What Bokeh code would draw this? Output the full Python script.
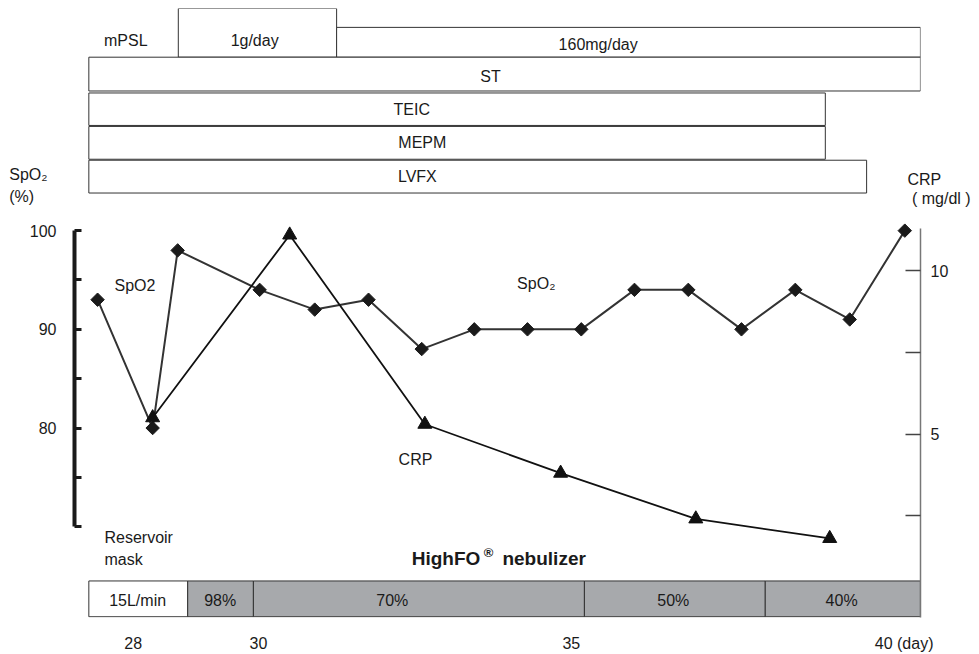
from bokeh.plotting import figure
from bokeh.models import Range1d, LinearAxis, FixedTicker, Label
from bokeh.embed import file_html
from bokeh.resources import INLINE
from bokeh.core.properties import value
import math

FONT = "Liberation Sans"
INK = "#1a1a1a"
GRAY = "#a7a9ac"
NBSP = "\u00a0"

# ---------------- data ----------------
spo2_day = [27.43, 28.31, 28.71, 30.02, 30.90, 31.76, 32.61, 33.45,
            34.30, 35.16, 36.01, 36.87, 37.72, 38.58, 39.45, 40.33]
spo2_val = [93, 80, 98, 94, 92, 93, 88, 90, 90, 90, 94, 94, 90, 94, 91, 100]

crp_day = [28.31, 30.50, 32.66, 34.83, 36.99, 39.13]
crp_val = [5.5, 11.1, 5.3, 3.8, 2.4, 1.8]

drug_names = ["ST", "TEIC", "MEPM", "LVFX"]
drug_start = [27.29, 27.29, 27.29, 27.29]
drug_end = [40.58, 39.06, 39.06, 39.72]

mpsl_doses = ["1g/day", "160mg/day"]
mpsl_start = [28.72, 31.25]
mpsl_end = [31.25, 40.58]

o2_labels = ["15L/min", "98%", "70%", "50%", "40%"]
o2_start = [27.29, 28.87, 29.92, 35.21, 38.10]
o2_end = [28.87, 29.92, 35.21, 38.10, 40.58]

day_ticks = [28, 30, 35, 40]
day_unit = "(day)"
spo2_ticks = [70, 75, 80, 85, 90, 95, 100]
spo2_labeled = [80, 90, 100]
spo2_title = ["SpO\u2082", "(%)"]
crp_ticks = [2.5, 5, 7.5, 10]
crp_labeled = [5, 10]
crp_title = ["CRP", "( mg/dl )"]

# ---------------- layout (rows for the bars, top = 0) ----------------
drug_top = [1.47, 2.55, 3.56, 4.58]
drug_bot = [2.49, 3.53, 4.55, 5.57]
drug_text_x = [33.71, 32.45, 32.62, 32.54]
drug_text_y = [2.04, 3.05, 4.05, 5.07]

mpsl_top = [0.0, 0.57]
mpsl_bot = [1.47, 1.47]
mpsl_text_x = [29.94, 35.43]
mpsl_text_y = [0.97, 1.08]

o2_top = 17.28
o2_bot = 18.36
o2_text_x = [28.07, 29.39, 32.14, 36.63, 39.32]
o2_text_y = 17.88

spo2_title_rows = [5.00, 5.66]
crp_title_rows = [5.15, 5.75]

p = figure(width=979, height=654,
           x_range=Range1d(27.061, 40.581), y_range=Range1d(60.80, 122.51),
           output_backend="svg", toolbar_location=None,
           min_border_left=74, min_border_right=59, min_border_top=8,
           min_border_bottom=32)
p.extra_y_ranges = {"crp": Range1d(-0.623, 18.04), "lane": Range1d(18.383, 0)}
p.xgrid.visible = False
p.ygrid.visible = False
p.outline_line_color = None


def style_labels(ax):
    ax.major_label_text_font = FONT
    ax.major_label_text_font_size = "16px"
    ax.major_label_text_color = INK


# left SpO2 axis (bracket)
yax = p.yaxis[0]
yax.ticker = FixedTicker(ticks=spo2_ticks)
yax.major_label_overrides = {t: (str(t) if t in spo2_labeled else "") for t in spo2_ticks}
yax.bounds = (70, 100)
yax.axis_line_width = 4
yax.axis_line_color = INK
yax.major_tick_in = 7
yax.major_tick_out = 0
yax.major_tick_line_width = 3
yax.major_tick_line_color = INK
yax.minor_tick_line_color = None
yax.major_label_standoff = 18
style_labels(yax)

# axis title for SpO2, set above the bracket (outer left axis)
tax = LinearAxis(y_range_name="lane", ticker=FixedTicker(ticks=spo2_title_rows))
tax.major_label_overrides = {spo2_title_rows[0]: spo2_title[0],
                             spo2_title_rows[1]: spo2_title[1] + NBSP * 3}
tax.axis_line_color = None
tax.major_tick_line_color = None
tax.minor_tick_line_color = None
tax.major_tick_in = 0
tax.major_tick_out = 0
tax.major_label_standoff = -21
style_labels(tax)
p.add_layout(tax, "left")

# right CRP axis
rax = LinearAxis(y_range_name="crp", ticker=FixedTicker(ticks=crp_ticks), bounds=(-0.62, 11.3))
rax.major_label_overrides = {t: (str(t) if t in crp_labeled else "") for t in crp_ticks}
rax.axis_line_color = "#777777"
rax.axis_line_width = 1.5
rax.major_tick_in = 15
rax.major_tick_out = 0
rax.major_tick_line_color = "#444444"
rax.major_tick_line_width = 1.5
rax.minor_tick_line_color = None
rax.major_label_standoff = 10
style_labels(rax)
p.add_layout(rax, "right")

# axis title for CRP (outer right axis)
cax = LinearAxis(y_range_name="lane", ticker=FixedTicker(ticks=crp_title_rows))
cax.major_label_overrides = {crp_title_rows[0]: crp_title[0],
                             crp_title_rows[1]: NBSP + crp_title[1]}
cax.axis_line_color = None
cax.major_tick_line_color = None
cax.minor_tick_line_color = None
cax.major_tick_in = 0
cax.major_tick_out = 0
cax.major_label_standoff = -44
style_labels(cax)
p.add_layout(cax, "right")

# x axis (days); the unit follows the last tick label
xax = p.xaxis[0]
xax.ticker = FixedTicker(ticks=day_ticks)
xax.major_label_overrides = {day_ticks[-1]: NBSP * 9 + str(day_ticks[-1]) + " " + day_unit}
xax.axis_line_color = None
xax.major_tick_line_color = None
xax.minor_tick_line_color = None
xax.major_label_standoff = 11
style_labels(xax)

# medication boxes
p.quad(left=mpsl_start, right=mpsl_end, top=mpsl_top, bottom=mpsl_bot, y_range_name="lane",
       fill_color="white", line_color="#333333", line_width=1)
p.quad(left=drug_start, right=drug_end, top=drug_top, bottom=drug_bot, y_range_name="lane",
       fill_color="white", line_color="#333333", line_width=1)
p.text(x=mpsl_text_x, y=mpsl_text_y, text=mpsl_doses, y_range_name="lane",
       text_font=value(FONT), text_font_size="16px", text_color=INK,
       text_align="center", text_baseline="middle")
p.text(x=drug_text_x, y=drug_text_y, text=drug_names, y_range_name="lane",
       text_font=value(FONT), text_font_size="16px", text_color=INK,
       text_align="center", text_baseline="middle")

# oxygen bar
o2_fill = ["white"] + [GRAY] * (len(o2_labels) - 1)
p.quad(left=o2_start, right=o2_end, top=[o2_top] * len(o2_labels), bottom=[o2_bot] * len(o2_labels),
       y_range_name="lane", fill_color=o2_fill, line_color="#333333", line_width=1)
p.text(x=o2_text_x, y=[o2_text_y] * len(o2_labels), text=o2_labels, y_range_name="lane",
       text_font=value(FONT), text_font_size="16px", text_color=INK,
       text_align="center", text_baseline="middle")

# series
p.line(spo2_day, spo2_val, line_color="#333333", line_width=2)
p.scatter(spo2_day, spo2_val, marker="square", angle=math.pi / 4, size=9.5, color=INK)
p.line(crp_day, crp_val, y_range_name="crp", line_color="#111111", line_width=1.8)
p.scatter(crp_day, crp_val, y_range_name="crp", marker="triangle", size=14, color="#111111")


def lab(x, y, text, align="left", rng="default", bold=False, size="16px"):
    kw = dict(x=x, y=y, text=text, text_font=FONT, text_font_size=size,
              text_color=INK, text_align=align, text_baseline="middle")
    if rng != "default":
        kw["y_range_name"] = rng
    if bold:
        kw["text_font_style"] = "bold"
    p.add_layout(Label(**kw))


lab(27.88, 0.96, "mPSL", "center", "lane")
lab(27.70, 94.47, "SpO2")
lab(34.44, 94.67, "SpO\u2082", "center")
lab(32.51, 76.78, "CRP", "center")
lab(27.54, 15.96, "Reservoir", "left", "lane")
lab(27.54, 16.62, "mask", "left", "lane")
lab(32.45, 16.59, "HighFO", "left", "lane", bold=True, size="19px")
lab(33.60, 16.42, "\u00ae", "left", "lane", bold=True, size="13px")
lab(33.90, 16.59, "nebulizer", "left", "lane", bold=True, size="19px")

open("out.html", "w").write(file_html(p, INLINE))
